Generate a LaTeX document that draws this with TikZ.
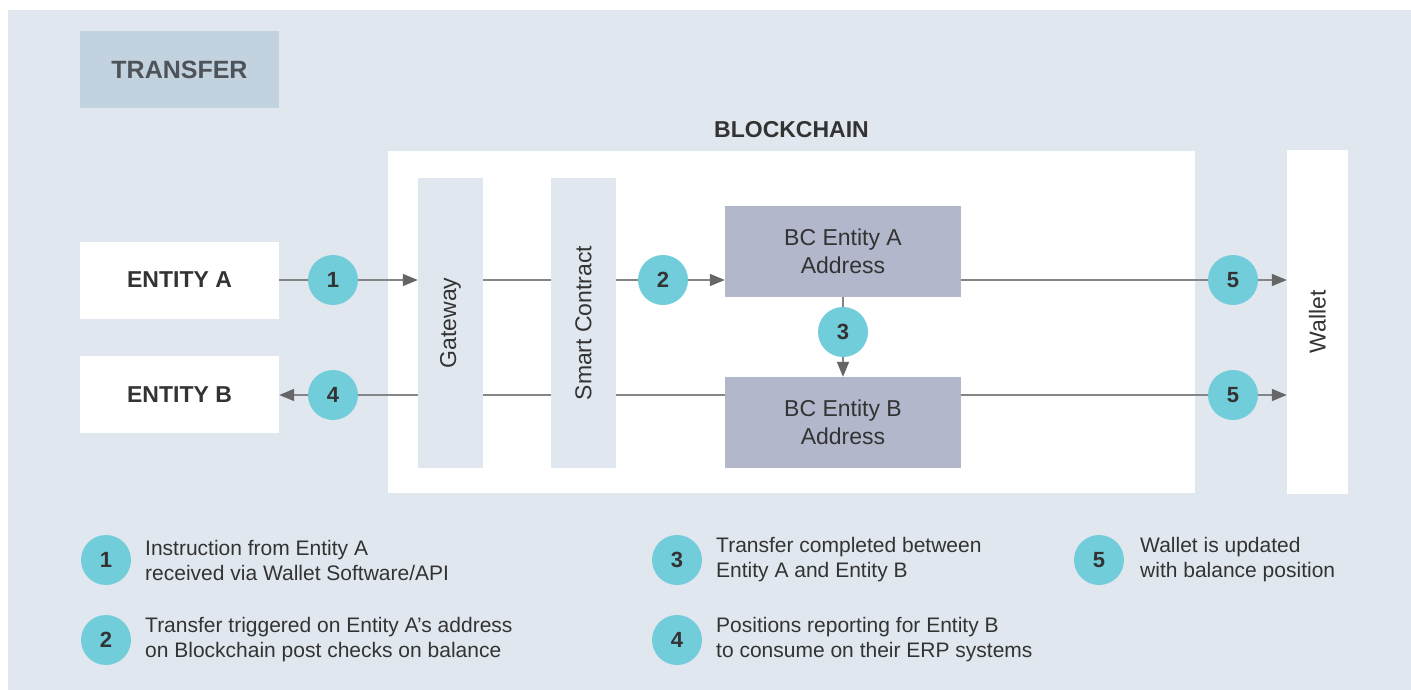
\documentclass[tikz,border=0pt]{standalone}
\usepackage{fontspec}
\setmainfont{Liberation Sans}
\usetikzlibrary{arrows.meta}
\definecolor{bgc}{HTML}{E0E7EE}
\definecolor{hdrc}{HTML}{C2D2DF}
\definecolor{bcboxc}{HTML}{B2B7CB}
\definecolor{numc}{HTML}{72CDDB}
\definecolor{txtc}{HTML}{333333}
\definecolor{hdrtxt}{HTML}{4E5359}
\definecolor{lnc}{HTML}{858585}
\definecolor{tipc}{HTML}{666666}
\newcommand\fsz[2]{\fontsize{#1}{#2}\selectfont}
\tikzset{
  whitebox/.style={fill=white, draw=none, inner sep=0, minimum width=199, minimum height=77,
    text=txtc, font=\fsz{23}{23}\bfseries},
  barbox/.style={fill=bgc, draw=none, inner sep=0, minimum width=65, minimum height=290},
  bcbox/.style={fill=bcboxc, draw=none, inner sep=0, minimum width=236, minimum height=91,
    text=txtc, align=center, font=\fsz{23}{28}},
  numcirc/.style={circle, fill=numc, draw=none, inner sep=0, minimum size=50,
    text=txtc, font=\fsz{22}{22}\bfseries},
  vlabel/.style={rotate=90, text=txtc, font=\fsz{23}{23}, inner sep=0},
  legtext/.style={anchor=west, align=left, inner sep=0, text=txtc, font=\fsz{21}{25}},
  conn/.style={draw=lnc, line width=1.6pt},
  arr/.style={conn, -{Triangle[length=15pt,width=12pt,color=tipc,fill=tipc]}},
}
\begin{document}
\begin{tikzpicture}[x=1pt,y=-1pt]
\useasboundingbox (0,0) rectangle (1411,690);
\fill[bgc] (8,10) rectangle (1411,690);

% header
\node[fill=hdrc, inner sep=0, minimum width=199, minimum height=77, text=hdrtxt,
      font=\fsz{25}{25}\bfseries] (hdr) at (179.5,69.5) {TRANSFER};

% blockchain frame
\node[fill=white, inner sep=0, minimum width=807, minimum height=342] (bc) at (791.5,322) {};
\node[text=txtc, font=\fsz{23}{23}\bfseries, inner sep=0] (bclabel) at (791.5,130) {BLOCKCHAIN};

% entities
\node[whitebox] (ea) at (179.5,280) {ENTITY A};
\node[whitebox] (eb) at (179.5,394.5) {ENTITY B};

% bars
\node[barbox] (gw) at (450.5,323) {};
\node[vlabel] (gwl) at (gw.center) {Gateway};
\node[barbox] (sc) at (583.5,323) {};
\node[vlabel] (scl) at (sc.center) {Smart Contract};

% BC addresses
\node[bcbox] (bca) at (843,251.5) {BC Entity A\\Address};
\node[bcbox] (bcb) at (843,422.5) {BC Entity B\\Address};

% wallet
\node[fill=white, inner sep=0, minimum width=61, minimum height=343] (wal) at (1317.5,322) {};
\node[vlabel] (wall) at (wal.center) {Wallet};

% step circles
\node[numcirc] (c1) at (333,280) {1};
\node[numcirc] (c2) at (663,280) {2};
\node[numcirc] (c3) at (843,332) {3};
\node[numcirc] (c4) at (333,395) {4};
\node[numcirc] (c5a) at (1233,280) {5};
\node[numcirc] (c5b) at (1233,395) {5};

% row 1
\draw[conn] (ea.east |- c1) -- (c1);
\draw[arr] (c1) -- (c1 -| gw.west);
\draw[conn] (gw.east |- c1) -- (sc.west |- c1);
\draw[conn] (sc.east |- c2) -- (c2);
\draw[arr] (c2) -- (c2 -| bca.west);
\draw[conn] (bca.east |- c5a) -- (c5a);
\draw[arr] (c5a) -- (c5a -| wal.west);

% vertical
\draw[conn] (bca.south) -- (c3);
\draw[arr] (c3) -- (bcb.north);

% row 2
\draw[conn] (bcb.west |- c4) -- (sc.east |- c4);
\draw[conn] (sc.west |- c4) -- (gw.east |- c4);
\draw[conn] (gw.west |- c4) -- (c4);
\draw[arr] (c4) -- (c4 -| eb.east);
\draw[conn] (bcb.east |- c5b) -- (c5b);
\draw[arr] (c5b) -- (c5b -| wal.west);

% legend
\node[numcirc] (l1) at (106,560) {1};
\node[numcirc] (l2) at (106,640) {2};
\node[numcirc] (l3) at (677,560) {3};
\node[numcirc] (l4) at (677,640) {4};
\node[numcirc] (l5) at (1099,560) {5};
\node[legtext] (t1) at (145,560) {Instruction from Entity A\\received via Wallet Software/API};
\node[legtext] (t2) at (145,640) {Transfer triggered on Entity A’s address\\on Blockchain post checks on balance};
\node[legtext] (t3) at (716,560) {Transfer completed between\\Entity A and Entity B};
\node[legtext] (t4) at (716,640) {Positions reporting for Entity B\\to consume on their ERP systems};
\node[legtext] (t5) at (1140,560) {Wallet is updated\\with balance position};
\end{tikzpicture}
\end{document}
